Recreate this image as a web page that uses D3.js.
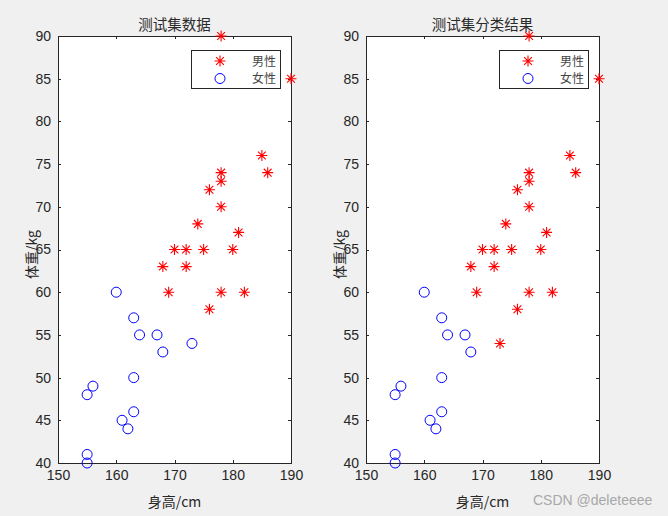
<!DOCTYPE html>
<html><head><meta charset="utf-8">
<script src="https://cdn.jsdelivr.net/npm/d3@7"></script>
<style>
html,body{margin:0;padding:0;background:#f0f0f0;}
svg{display:block;}
</style></head>
<body>
<svg id="c" width="668" height="516"></svg>
<script>
// ---- data ----
const maleHeight   = [178,190,185,178,186,178,176,178,174,181,170,172,175,180,168,172,169,178,182,176];
const maleWeight   = [90, 85, 76, 74, 74, 73, 72, 70, 68, 67, 65, 65, 65, 65, 63, 63, 60, 60, 60, 58];
const femaleHeight = [160,163,164,167,168,173,163,156,155,163,161,162,155,155];
const femaleWeight = [60, 57, 55, 55, 53, 54, 50, 49, 48, 46, 45, 44, 41, 40];
// classification result: indices of females predicted as male
const misclassifiedFemale = [5];
const xTicks = [150,160,170,180,190];
const yTicks = [40,45,50,55,60,65,70,75,80,85,90];
const titles = ["测试集数据","测试集分类结果"];
const legendLabels = ["男性","女性"];
const xLabel = "身高/cm";
const yLabel = "体重/kg";

const svg = d3.select("#c");
const axColor = "#262626";
const red = "#ff0000", blue = "#0000ff";

function starPath(r){
  const d = r*0.7071;
  return `M${-r},0L${r},0M0,${-r}L0,${r}M${-d},${-d}L${d},${d}M${-d},${d}L${d},${-d}`;
}

function panel(x0, title, males, females){
  const left = x0, right = x0+233, top = 36, bottom = 463;
  const x = d3.scaleLinear().domain([150,190]).range([left,right]);
  const y = d3.scaleLinear().domain([40,90]).range([bottom,top]);
  const g = svg.append("g");
  g.append("rect").attr("x",left).attr("y",top).attr("width",right-left).attr("height",bottom-top)
    .attr("fill","#fff");

  // axes (ticks inside)
  const tl = 3;
  const ax = d3.axisBottom(x).tickValues(xTicks).tickSizeInner(-tl).tickSizeOuter(0).tickPadding(7);
  const gx = g.append("g").attr("transform",`translate(0,${bottom})`).call(ax);
  const axt = d3.axisTop(x).tickValues(xTicks).tickSizeInner(-tl).tickSizeOuter(0).tickFormat("");
  const gxt = g.append("g").attr("transform",`translate(0,${top})`).call(axt);
  const ay = d3.axisLeft(y).tickValues(yTicks).tickSizeInner(-tl).tickSizeOuter(0).tickPadding(7);
  const gy = g.append("g").attr("transform",`translate(${left},0)`).call(ay);
  const ayr = d3.axisRight(y).tickValues(yTicks).tickSizeInner(-tl).tickSizeOuter(0).tickFormat("");
  const gyr = g.append("g").attr("transform",`translate(${right},0)`).call(ayr);
  [gx,gxt,gy,gyr].forEach(a=>{
    a.selectAll("path").attr("stroke",axColor).attr("stroke-width",1).attr("shape-rendering","crispEdges");
    a.selectAll("line").attr("stroke",axColor).attr("shape-rendering","crispEdges");
    a.selectAll("text").attr("fill",axColor).attr("font-family","'Liberation Sans',Arial,sans-serif").attr("font-size",14);
  });

  // labels
  g.append("text").attr("x",(left+right)/2).attr("y",30).attr("text-anchor","middle")
    .attr("font-family","'Noto Sans CJK SC',sans-serif").attr("font-size",14.5).attr("fill","#2a2a2a").text(title);
  g.append("text").attr("x",(left+right)/2).attr("y",507).attr("text-anchor","middle")
    .attr("font-family","'Noto Sans CJK SC','Liberation Sans',sans-serif").attr("font-size",14).attr("fill",axColor).text(xLabel);
  g.append("text").attr("transform",`translate(${left-21},${(top+bottom)/2+5}) rotate(-90)`).attr("text-anchor","middle")
    .attr("font-family","'Noto Sans CJK SC','Liberation Sans',sans-serif").attr("font-size",14).attr("fill",axColor).text(yLabel);

  // points
  g.append("g").selectAll("path").data(males).join("path")
    .attr("transform",d=>`translate(${x(d[0])},${y(d[1])})`)
    .attr("d",starPath(5.5)).attr("stroke",red).attr("stroke-width",1.1).attr("fill","none");
  g.append("g").selectAll("circle").data(females).join("circle")
    .attr("cx",d=>x(d[0])).attr("cy",d=>y(d[1])).attr("r",5)
    .attr("stroke",blue).attr("stroke-width",1).attr("fill","none");

  // legend
  const lx = right-100, ly = 50, lw = 89, lh = 38;
  const lg = g.append("g");
  lg.append("rect").attr("x",lx+0.5).attr("y",ly+0.5).attr("width",lw).attr("height",lh)
    .attr("fill","#fff").attr("stroke",axColor).attr("stroke-width",1);
  lg.append("path").attr("transform",`translate(${lx+29},${ly+11})`).attr("d",starPath(5.5))
    .attr("stroke",red).attr("stroke-width",1.1).attr("fill","none");
  lg.append("circle").attr("cx",lx+29).attr("cy",ly+28.5).attr("r",5)
    .attr("stroke",blue).attr("fill","none");
  legendLabels.forEach((t,i)=>{
    lg.append("text").attr("x",lx+85).attr("y",ly+15.5+i*17.6).attr("text-anchor","end")
      .attr("font-family","'Noto Sans CJK SC',sans-serif").attr("font-size",12).attr("fill","#444").text(t);
  });
}

const males = maleHeight.map((h,i)=>[h,maleWeight[i]]);
const females = femaleHeight.map((h,i)=>[h,femaleWeight[i]]);
panel(58, titles[0], males, females);

const predMales = males.concat(females.filter((d,i)=>misclassifiedFemale.includes(i)));
const predFemales = females.filter((d,i)=>!misclassifiedFemale.includes(i));
panel(366, titles[1], predMales, predFemales);

svg.append("text").attr("x",533).attr("y",505).attr("font-family","'Liberation Sans',Arial,sans-serif")
  .attr("font-size",14).attr("fill","#a8a8a8").text("CSDN @deleteeee");
</script>
</body></html>
